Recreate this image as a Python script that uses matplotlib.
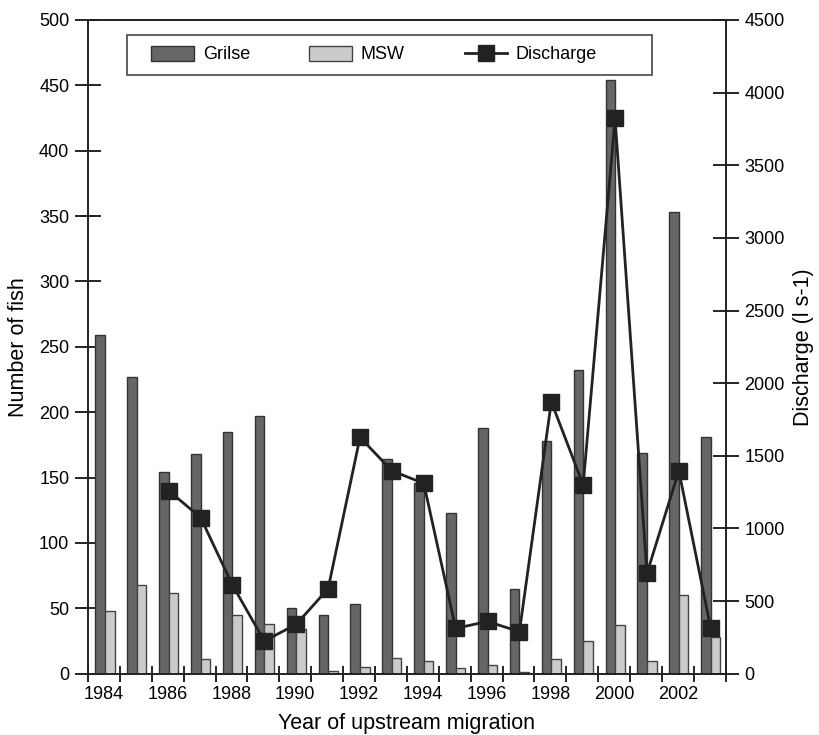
import matplotlib
matplotlib.use("Agg")
from matplotlib import pyplot as plt
from matplotlib.patches import Rectangle
import numpy as np

plt.rcParams['font.family'] = ['Liberation Sans', 'DejaVu Sans']

years = list(range(1984, 2004))
grilse = [259, 227, 154, 168, 185, 197, 50, 45, 53, 164,
          146, 123, 188, 65, 178, 232, 454, 169, 353, 181]
msw = [48, 68, 62, 11, 45, 38, 34, 2, 5, 12,
       10, 4, 7, 1, 11, 25, 37, 10, 60, 28]
discharge = [np.nan, np.nan, 1260, 1075, 610, 225, 340, 585, 1627, 1397,
             1310, 312, 360, 289, 1872, 1300, 3822, 691, 1397, 312]

fig = plt.figure(figsize=(8.19, 7.35), dpi=100)
ax = fig.add_axes([0.1075, 0.0834, 0.7786, 0.8894])
ax2 = ax.twinx()

x = np.arange(len(years))
c = x + 0.53
w = 0.3

b1 = ax.bar(c - w, grilse, width=w, align='edge', color='#666666',
            edgecolor='#333333', linewidth=1.0, label='Grilse', zorder=2)
b2 = ax.bar(c, msw, width=w, align='edge', color='#cbcbcb',
            edgecolor='#444444', linewidth=1.0, label='MSW', zorder=2)
ln, = ax2.plot(c, discharge, color='#222222', lw=2, marker='s', ms=11,
               markerfacecolor='#222222', label='Discharge', zorder=3)

ax.set_xlim(0, 20)
ax.set_ylim(0, 500)
ax2.set_ylim(0, 4500)
ax.set_yticks(np.arange(0, 501, 50))
ax2.set_yticks(np.arange(0, 4501, 500))

ax.set_xticks(np.arange(0, 21))
ax.set_xticklabels([])
ax.set_xticks(x[::2] + 0.5, [str(y) for y in years[::2]], minor=True)
ax.tick_params(axis='x', which='major', direction='inout', length=12, width=1.2)
ax.tick_params(axis='x', which='minor', length=0, pad=9, labelsize=13)
ax.tick_params(axis='y', direction='inout', length=19, width=1.2, pad=4, labelsize=13)
ax2.tick_params(axis='y', direction='inout', length=19, width=1.2, pad=4, labelsize=13)

for a in (ax, ax2):
    for s in a.spines.values():
        s.set_linewidth(1.2)
        s.set_color('#222222')

ax.set_ylabel('Number of fish', fontsize=15.5, labelpad=7)
ax2.set_ylabel('Discharge (l s-1)', fontsize=15.5, labelpad=6)
ax.set_xlabel('Year of upstream migration', fontsize=15.5, labelpad=7)

# legend frame box, then legend without its own frame
ax2.add_patch(Rectangle((0.061, 0.916), 0.823, 0.0615, transform=ax2.transAxes,
                        facecolor='white', edgecolor='#555555', lw=1.3, zorder=4))
leg = ax2.legend([b1, b2, ln], ['Grilse', 'MSW', 'Discharge'], ncol=3,
                 loc='center left', bbox_to_anchor=(0.099, 0.947),
                 frameon=False, fontsize=13, handlelength=2.35, handleheight=0.9,
                 handletextpad=0.5, columnspacing=3.3, borderpad=0, borderaxespad=0)
leg.set_zorder(5)

fig.savefig('out.png', dpi=100)
